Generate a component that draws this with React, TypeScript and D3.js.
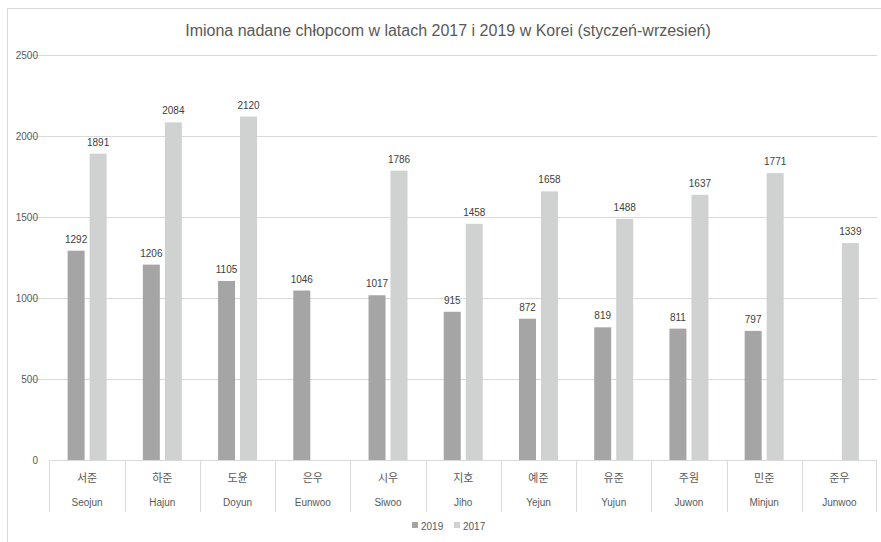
import React from "react";
import * as d3 from "d3";

const koreanNames = ["서준", "하준", "도윤", "은우", "시우", "지호", "예준", "유준", "주원", "민준", "준우"];
const latinNames = ["Seojun", "Hajun", "Doyun", "Eunwoo", "Siwoo", "Jiho", "Yejun", "Yujun", "Juwon", "Minjun", "Junwoo"];
const values2019: (number | null)[] = [1292, 1206, 1105, 1046, 1017, 915, 872, 819, 811, 797, null];
const values2017: (number | null)[] = [1891, 2084, 2120, null, 1786, 1458, 1658, 1488, 1637, 1771, 1339];
const yTicks = [0, 500, 1000, 1500, 2000, 2500];
const seriesNames = ["2019", "2017"];
const seriesColors = ["#a5a5a5", "#d0d1d1"];

const W = 881;
const H = 542;
const FONT = "'Liberation Sans', 'Open Sans', sans-serif";
const TEXT = "#595959";

export default function App() {
  const x = d3.scaleBand<string>().domain(latinNames).range([49.5, 877]).paddingInner(0).paddingOuter(0);
  const y = d3.scaleLinear().domain([0, 2500]).range([460, 55]);
  const barW = 17;
  const gap = 5;
  const series = [values2019, values2017];

  return (
    <svg width={W} height={H} style={{ position: "absolute", left: 0, top: 0 }} fontFamily={FONT}>
      <rect x={0} y={0} width={W} height={H} fill="#fff" />
      <rect x={7.5} y={8.5} width={W + 10} height={H + 10} fill="none" stroke="#d9d9d9" />
      <text x={448} y={36} textAnchor="middle" fontSize={16} fill={TEXT} style={{ fontStretch: "condensed" }}>
        Imiona nadane chłopcom w latach 2017 i 2019 w Korei (styczeń-wrzesień)
      </text>
      {yTicks.map((t) => (
        <g key={t}>
          {t > 0 && <line x1={30} x2={877} y1={Math.round(y(t)) + 0.5} y2={Math.round(y(t)) + 0.5} stroke="#d9d9d9" />}
          <text x={38} y={y(t) + 3.5} textAnchor="end" fontSize={10} fill={TEXT}>{t}</text>
        </g>
      ))}
      {series.map((vals, si) =>
        vals.map((v, i) => {
          if (v == null) return null;
          const cx = (x(latinNames[i]) as number) + x.bandwidth() / 2;
          const bx = si === 0 ? cx - gap / 2 - barW : cx + gap / 2;
          return (
            <g key={`${si}-${i}`}>
              <rect x={bx} y={y(v)} width={barW} height={y(0) - y(v)} fill={seriesColors[si]} />
              <text x={bx + barW / 2} y={y(v) - 8} textAnchor="middle" fontSize={10} fill="#404040">{v}</text>
            </g>
          );
        })
      )}
      <line x1={49.5} x2={877} y1={460.5} y2={460.5} stroke="#d9d9d9" />
      {latinNames.map((n) => (
        <line key={n} x1={Math.round(x(n) as number) + 0.5} x2={Math.round(x(n) as number) + 0.5} y1={460} y2={512} stroke="#d9d9d9" />
      ))}
      <line x1={876.5} x2={876.5} y1={460} y2={512} stroke="#d9d9d9" />
      {latinNames.map((n, i) => {
        const cx = (x(n) as number) + x.bandwidth() / 2;
        return (
          <g key={n + "l"}>
            <text x={cx} y={482} textAnchor="middle" fontSize={11} fill={TEXT} fontFamily="'Noto Sans CJK KR', sans-serif">{koreanNames[i]}</text>
            <text x={cx} y={506} textAnchor="middle" fontSize={10} fill={TEXT}>{n}</text>
          </g>
        );
      })}
      {seriesNames.map((s, i) => (
        <g key={s} transform={`translate(${412 + i * 42},0)`}>
          <rect x={0} y={522} width={6} height={6} fill={seriesColors[i]} />
          <text x={9} y={530} fontSize={10} fill={TEXT}>{s}</text>
        </g>
      ))}
    </svg>
  );
}
